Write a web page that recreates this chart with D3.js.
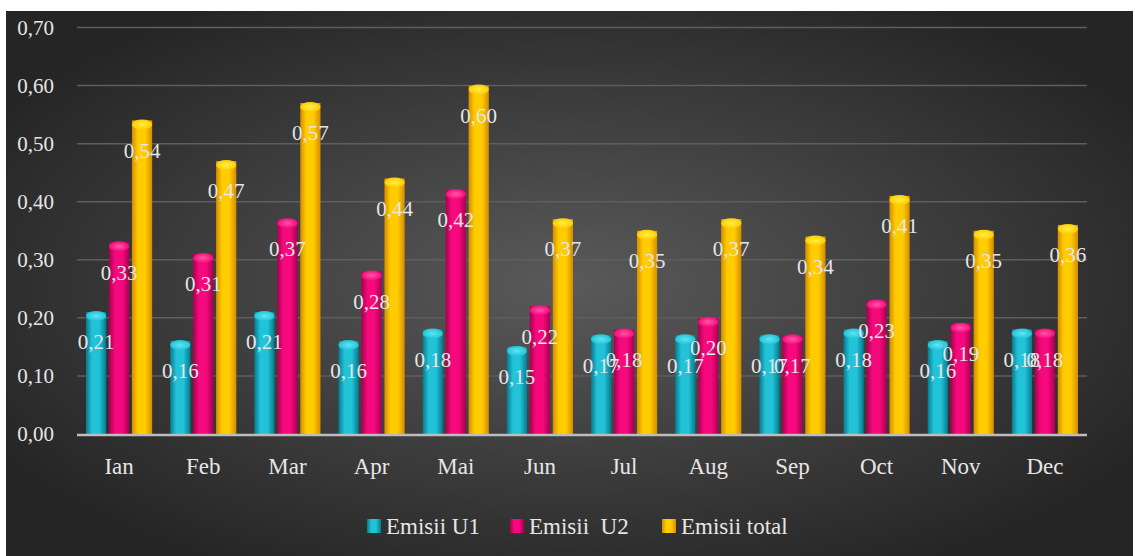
<!DOCTYPE html>
<meta charset="utf-8">
<style>
body { margin: 0; background: #fff; }
text { font-family: "Liberation Serif", "DejaVu Serif", serif; }
</style>
<body>
<svg id="chart" width="1135" height="556"></svg>
<script src="https://d3js.org/d3.v7.min.js"></script>
<script>

// data
var months = ["Ian", "Feb", "Mar", "Apr", "Mai", "Jun", "Jul", "Aug", "Sep", "Oct", "Nov", "Dec"];
var seriesNames = ["Emisii U1", "Emisii  U2", "Emisii total"];
var u1    = [0.21, 0.16, 0.21, 0.16, 0.18, 0.15, 0.17, 0.17, 0.17, 0.18, 0.16, 0.18];
var u2    = [0.33, 0.31, 0.37, 0.28, 0.42, 0.22, 0.18, 0.20, 0.17, 0.23, 0.19, 0.18];
var total = [0.54, 0.47, 0.57, 0.44, 0.60, 0.37, 0.35, 0.37, 0.34, 0.41, 0.35, 0.36];
var yTicks = [0, 0.1, 0.2, 0.3, 0.4, 0.5, 0.6, 0.7];

var colors = [
  {mid: "#22c3d8", edge: "#06798e", top: "#5fe6f2"},
  {mid: "#f5097c", edge: "#a8004f", top: "#ff5aa6"},
  {mid: "#ffcc00", edge: "#d68c00", top: "#fff04a"}
];

var svg = d3.select("#chart");
var defs = svg.append("defs");

// background panel
var bg = defs.append("radialGradient").attr("id", "bg")
    .attr("cx", "50%").attr("cy", "50%").attr("r", "60%");
bg.append("stop").attr("offset", "0%").attr("stop-color", "#5a5a5a");
bg.append("stop").attr("offset", "100%").attr("stop-color", "#252525");

svg.append("rect")
    .attr("x", 6).attr("y", 11)
    .attr("width", 1127).attr("height", 545)
    .attr("fill", "url(#bg)");

// bar gradients
colors.forEach(function(c, i) {
  var g = defs.append("linearGradient").attr("id", "bar" + i)
      .attr("x1", "0%").attr("x2", "100%").attr("y1", "0%").attr("y2", "0%");
  g.append("stop").attr("offset", "0%").attr("stop-color", c.edge);
  g.append("stop").attr("offset", "30%").attr("stop-color", c.mid);
  g.append("stop").attr("offset", "65%").attr("stop-color", c.mid);
  g.append("stop").attr("offset", "100%").attr("stop-color", c.edge);
  var t = defs.append("radialGradient").attr("id", "cap" + i);
  t.append("stop").attr("offset", "0%").attr("stop-color", c.top);
  t.append("stop").attr("offset", "100%").attr("stop-color", c.mid);
});

var plotL = 77, plotR = 1087, plotT = 27.5, plotB = 434;

var x = d3.scaleBand().domain(months).range([plotL, plotR]).paddingInner(0.214).paddingOuter(0.107);
var xs = d3.scaleBand().domain([0, 1, 2]).range([0, x.bandwidth()]).paddingInner(0.12);
var y = d3.scaleLinear().domain([0, 0.7]).range([plotB, plotT]);

var fmt = function(v) { return d3.format(".2f")(v).replace(".", ","); };

// gridlines
svg.append("g").selectAll("line")
    .data(yTicks.slice(1))
  .enter().append("line")
    .attr("x1", plotL).attr("x2", plotR)
    .attr("y1", function(d) { return y(d); })
    .attr("y2", function(d) { return y(d); })
    .attr("stroke", "#5e5e5e")
    .attr("stroke-width", 1.5);

// y tick labels
svg.append("g").selectAll("text")
    .data(yTicks)
  .enter().append("text")
    .attr("x", 54)
    .attr("y", function(d) { return y(d); })
    .attr("dy", "0.35em")
    .attr("text-anchor", "end")
    .attr("fill", "#e6e6e6")
    .style("font-size", "21px")
    .text(fmt);

var series = [u1, u2, total];

// bars
series.forEach(function(vals, s) {
  var g = svg.append("g");
  g.selectAll("rect")
      .data(vals)
    .enter().append("rect")
      .attr("x", function(d, i) { return x(months[i]) + xs(s); })
      .attr("y", function(d) { return y(d); })
      .attr("width", xs.bandwidth())
      .attr("height", function(d) { return plotB - y(d); })
      .attr("fill", "url(#bar" + s + ")");
  g.selectAll("ellipse")
      .data(vals)
    .enter().append("ellipse")
      .attr("cx", function(d, i) { return x(months[i]) + xs(s) + xs.bandwidth() / 2; })
      .attr("cy", function(d) { return y(d) + 4; })
      .attr("rx", xs.bandwidth() / 2)
      .attr("ry", 5)
      .attr("fill", "url(#cap" + s + ")");
});

// value labels
series.forEach(function(vals, s) {
  svg.append("g").selectAll("text")
      .data(vals)
    .enter().append("text")
      .attr("x", function(d, i) { return x(months[i]) + xs(s) + xs.bandwidth() / 2; })
      .attr("y", function(d) { return y(d) + 30; })
      .attr("dy", "0.35em")
      .attr("text-anchor", "middle")
      .attr("fill", "#e6e6e6")
      .style("font-size", "21px")
      .text(fmt);
});

// baseline
svg.append("line")
    .attr("x1", plotL).attr("x2", plotR)
    .attr("y1", plotB + 1).attr("y2", plotB + 1)
    .attr("stroke", "#bdbdbd")
    .attr("stroke-width", 2.5);

// month labels
svg.append("g").selectAll("text")
    .data(months)
  .enter().append("text")
    .attr("x", function(d) { return x(d) + x.bandwidth() / 2; })
    .attr("y", 466)
    .attr("dy", "0.35em")
    .attr("text-anchor", "middle")
    .attr("fill", "#e6e6e6")
    .style("font-size", "23px")
    .text(function(d) { return d; });

// legend
var legendX = [367, 510, 662];
var legend = svg.selectAll(".legend")
    .data(seriesNames)
  .enter().append("g")
    .attr("class", "legend")
    .attr("transform", function(d, i) { return "translate(" + legendX[i] + ",526)"; });

legend.append("rect")
    .attr("x", 0).attr("y", -7)
    .attr("width", 14).attr("height", 14)
    .attr("fill", function(d, i) { return "url(#bar" + i + ")"; });

legend.append("text")
    .attr("x", 19)
    .attr("dy", "0.35em")
    .attr("fill", "#e6e6e6")
    .style("font-family", "'Liberation Serif', serif")
    .style("font-size", "23px")
    .style("white-space", "pre")
    .text(function(d) { return d; });

</script>
</body>
